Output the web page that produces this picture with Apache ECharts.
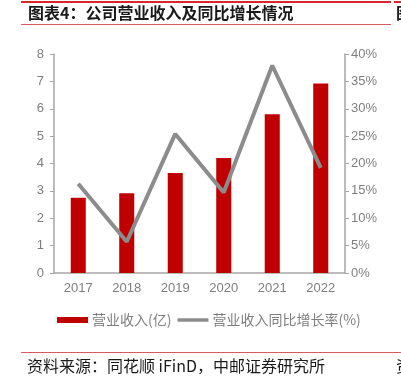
<!DOCTYPE html>
<html>
<head>
<meta charset="utf-8">
<script src="https://cdn.jsdelivr.net/npm/echarts@6/dist/echarts.min.js"></script>
<style>
  html, body { margin: 0; padding: 0; background: #fff; }
  #chart { width: 401px; height: 380px; }
</style>
</head>
<body>
<div id="chart"></div>
<script>
var years = ['2017', '2018', '2019', '2020', '2021', '2022'];
var revenue = [2.75, 2.91, 3.65, 4.2, 5.8, 6.92];
var growth = [16.3, 5.7, 25.4, 14.7, 37.9, 19.2];
var leftTicks = [0, 8, 1];
var rightTicks = [0, 40, 5];

var chart = echarts.init(document.getElementById('chart'));
var cjk = '"Noto Sans CJK SC", sans-serif';
var labelColor = '#7f7f7f';
var axisColor = '#a6a6a6';

var option = {
  animation: false,
  textStyle: { fontFamily: cjk },
  grid: { left: 54, right: 56, top: 54, bottom: 107 },
  legend: {
    top: 313,
    left: 57,
    padding: 0,
    itemGap: 6,
    itemWidth: 31,
    itemHeight: 6,
    textStyle: { color: labelColor, fontSize: 14, fontFamily: cjk, padding: [0, 0, 0, -1] },
    data: [
      { name: '营业收入(亿)', icon: 'rect' },
      { name: '营业收入同比增长率(%)', icon: 'path://M0,0L31,0L31,3.5L0,3.5Z' }
    ]
  },
  xAxis: {
    type: 'category',
    data: years,
    axisLine: { lineStyle: { color: axisColor, width: 1.5 } },
    axisTick: { show: false },
    axisLabel: { color: labelColor, fontSize: 13, margin: 9, fontFamily: 'Liberation Sans, sans-serif' }
  },
  yAxis: [
    {
      type: 'value',
      min: leftTicks[0], max: leftTicks[1], interval: leftTicks[2],
      splitLine: { show: false },
      axisLine: { show: true, lineStyle: { color: axisColor, width: 1.5 } },
      axisTick: { show: true, length: 4, lineStyle: { color: axisColor } },
      axisLabel: { color: labelColor, fontSize: 13, margin: 10, fontFamily: 'Liberation Sans, sans-serif' }
    },
    {
      type: 'value',
      min: rightTicks[0], max: rightTicks[1], interval: rightTicks[2],
      splitLine: { show: false },
      axisLine: { show: true, lineStyle: { color: axisColor, width: 1.5 } },
      axisTick: { show: true, length: 4, lineStyle: { color: axisColor } },
      axisLabel: { color: labelColor, fontSize: 13, margin: 6, formatter: '{value}%', fontFamily: 'Liberation Sans, sans-serif' }
    }
  ],
  series: [
    {
      name: '营业收入(亿)',
      type: 'bar',
      data: revenue,
      barWidth: '31%',
      itemStyle: { color: '#c00000' }
    },
    {
      name: '营业收入同比增长率(%)',
      type: 'line',
      yAxisIndex: 1,
      data: growth,
      symbol: 'none',
      lineStyle: { color: '#8c8c8c', width: 4 },
      itemStyle: { color: '#8c8c8c' }
    }
  ],
  graphic: [
    { type: 'rect', shape: { x: 21, y: 1, width: 370, height: 2 }, style: { fill: '#d7262e' } },
    { type: 'rect', shape: { x: 394, y: 1, width: 7, height: 2 }, style: { fill: '#d7262e' } },
    { type: 'rect', shape: { x: 21, y: 24, width: 370, height: 1 }, style: { fill: '#d9595e' } },
    {
      type: 'text', left: 28, top: 5,
      style: { text: '图表4：公司营业收入及同比增长情况', font: 'bold 16px "Noto Sans CJK SC"', fill: '#1a1a1a' }
    },
    {
      type: 'text', left: 396, top: 5,
      style: { text: '图', font: 'bold 16px "Noto Sans CJK SC"', fill: '#1a1a1a' }
    },
    { type: 'rect', shape: { x: 21, y: 352, width: 380, height: 1 }, style: { fill: '#d9595e' } },
    {
      type: 'text', left: 27, top: 358,
      style: { text: '资料来源：同花顺 iFinD，中邮证券研究所', font: '16px "Noto Sans CJK SC"', fill: '#1a1a1a' }
    },
    {
      type: 'text', left: 396, top: 358,
      style: { text: '资', font: '16px "Noto Sans CJK SC"', fill: '#1a1a1a' }
    }
  ]
};

chart.setOption(option);
</script>
</body>
</html>
